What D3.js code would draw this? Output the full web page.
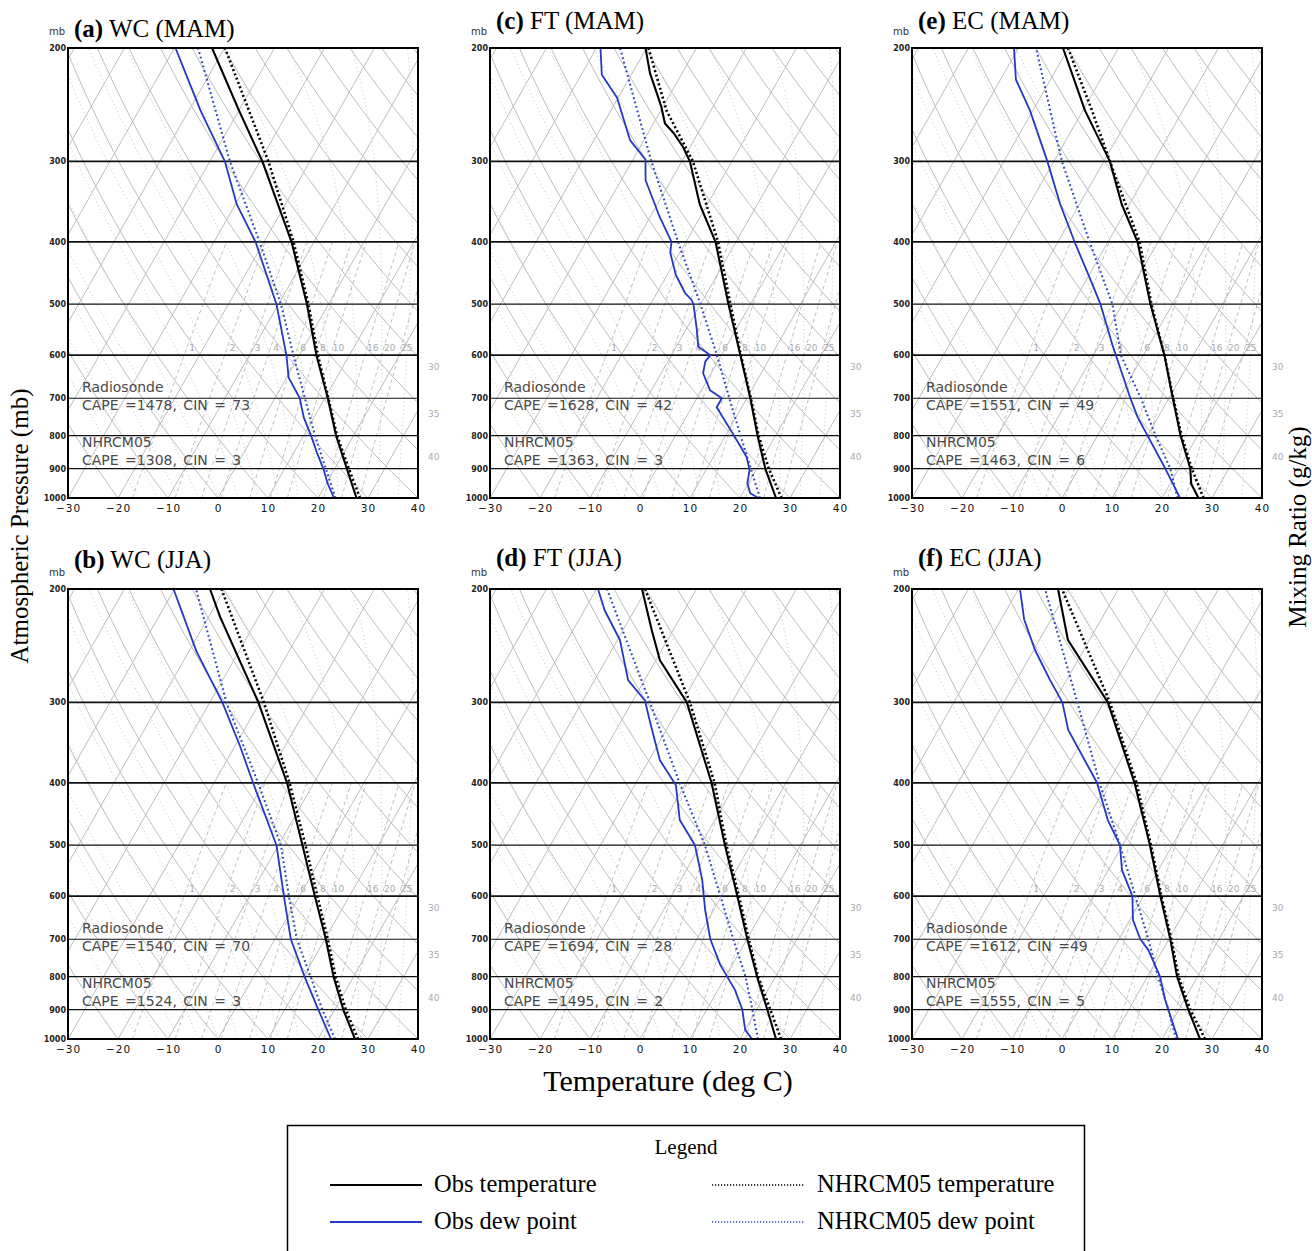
<!DOCTYPE html>
<html>
<head>
<meta charset="utf-8">
<title>Skew-T soundings</title>
<script src="https://d3js.org/d3.v7.min.js"></script>
<style>
  body { margin: 0; background: #fff; }
</style>
</head>
<body>
<script>
// ---- data: [pressure (mb), temperature (deg C)] ----
var obsTempA = [[1000,27.7],[900,22.4],[800,16.5],[700,10.6],[600,3.4],[500,-4.3],[400,-14.5],[300,-29.5],[250,-40],[200,-52.5]];
var nhTempA  = [[1000,28.4],[900,22.8],[800,16.7],[700,10.7],[600,3.7],[500,-4.0],[400,-14.1],[300,-28.3],[200,-49.9]];
var obsDewA  = [[1000,23.2],[950,20.3],[900,17.7],[850,14.6],[800,11.5],[750,8.0],[720,6.2],[700,5.0],[650,0.4],[600,-2.6],[500,-10.4],[400,-21.7],[350,-29.7],[300,-37.0],[250,-47.7],[200,-59.8]];
var nhDewA   = [[1000,23.5],[900,18.2],[800,12.3],[700,6.0],[600,-1.2],[500,-9.5],[400,-20.9],[300,-36.0],[200,-55.3]];

var obsTempB = [[1000,27.4],[900,21.7],[800,16.0],[700,10.2],[600,3.1],[500,-5.2],[400,-15.4],[300,-30.3],[221,-47.7],[200,-52.9]];
var nhTempB  = [[1000,28.0],[900,22.2],[800,16.4],[700,10.6],[600,3.6],[500,-4.6],[400,-14.9],[300,-29.2],[200,-50.6]];
var obsDewB  = [[1000,22.6],[900,16.7],[800,10.2],[700,3.2],[600,-3.1],[500,-10.4],[400,-22.2],[350,-29.1],[300,-37.5],[250,-48.5],[200,-60.2]];
var nhDewB   = [[1000,23.4],[900,17.5],[800,11.4],[700,4.4],[600,-2.1],[500,-9.5],[400,-21.2],[300,-36.7],[200,-55.7]];

var obsTempC = [[1000,27.2],[900,21.7],[800,16.4],[700,10.7],[600,3.8],[500,-4.4],[400,-14.1],[350,-21.5],[300,-28.4],[285,-31.4],[271,-34.9],[262,-37.7],[247,-40.3],[235,-42.8],[219,-46.4],[200,-50.2]];
var nhTempC  = [[1000,28.3],[900,22.4],[800,16.6],[700,10.8],[600,3.9],[500,-4.0],[400,-13.6],[300,-27.8],[250,-38.9],[200,-49.6]];
var obsDewC  = [[1000,23.7],[983,21.5],[949,19.8],[904,18.7],[863,16.6],[800,11.7],[723,5.0],[700,5.0],[680,1.7],[640,-1.6],[614,-2.5],[600,-2.2],[582,-5.6],[548,-7.8],[500,-11.4],[493,-12.2],[480,-14.4],[450,-18.3],[416,-21.9],[400,-22.9],[366,-28.1],[321,-35.1],[298,-37.5],[278,-42.8],[239,-50.2],[220,-55.9],[200,-59.2]];
var nhDewC   = [[1000,24.0],[900,18.8],[800,13.0],[700,6.5],[600,-0.9],[500,-10.0],[400,-21.6],[300,-36.1],[200,-55.3]];

var obsTempD = [[1000,27.2],[900,22.1],[800,16.3],[700,10.1],[600,3.2],[500,-5.1],[400,-14.9],[300,-29.0],[258,-39.2],[232,-44.2],[200,-50.9]];
var nhTempD  = [[1000,28.2],[900,22.7],[800,16.5],[700,10.4],[600,3.5],[500,-4.8],[400,-14.3],[300,-28.4],[200,-50.3]];
var obsDewD  = [[1000,22.4],[968,20.0],[900,17.1],[839,13.4],[767,7.6],[700,2.7],[630,-1.7],[566,-5.7],[500,-11.1],[457,-17.0],[403,-21.8],[369,-27.8],[322,-34.1],[298,-37.6],[277,-43.3],[240,-49.5],[216,-55.9],[200,-59.7]];
var nhDewD   = [[1000,23.6],[900,19.1],[800,14.0],[700,7.3],[600,-0.2],[500,-9.1],[400,-21.3],[300,-36.4],[200,-57.9]];

var obsTempE = [[1000,27.3],[950,24.2],[900,22.3],[800,16.6],[700,10.8],[600,4.2],[500,-4.4],[400,-14.1],[350,-21.5],[300,-28.8],[250,-39.6],[200,-51.1]];
var nhTempE  = [[1000,28.3],[900,22.6],[800,16.8],[700,10.9],[600,4.2],[500,-4.2],[400,-13.7],[300,-28.8],[250,-38.2],[200,-50.1]];
var obsDewE  = [[1000,23.6],[954,20.8],[900,17.3],[800,10.0],[750,6.0],[700,2.3],[600,-5.5],[578,-7.4],[500,-14.4],[458,-19.2],[400,-26.7],[350,-33.8],[300,-41.3],[250,-50.6],[224,-56.9],[200,-60.9]];
var nhDewE   = [[1000,23.1],[900,18.3],[800,11.6],[700,4.4],[600,-4.5],[500,-12.0],[400,-23.7],[300,-38.4],[200,-56.5]];

var obsTempF = [[1000,27.6],[900,21.9],[800,15.9],[700,10.3],[600,3.4],[500,-4.5],[400,-14.7],[300,-29.2],[240,-44.3],[200,-52.1]];
var nhTempF  = [[1000,28.6],[900,22.3],[800,16.2],[700,10.5],[600,3.6],[500,-4.3],[400,-14.3],[300,-28.8],[200,-51.3]];
var obsDewF  = [[1000,23.2],[900,17.9],[870,16.2],[800,12.5],[727,7.1],[700,4.3],[653,0.6],[600,-2.2],[546,-7.3],[500,-10.5],[457,-15.8],[400,-22.2],[331,-34.0],[300,-38.3],[277,-43.3],[249,-49.7],[223,-55.4],[200,-59.7]];
var nhDewF   = [[1000,22.8],[900,17.9],[800,12.1],[700,5.9],[600,-1.6],[500,-10.5],[400,-21.7],[300,-35.3],[200,-54.7]];

var panelLetters = ["(a)", "(b)", "(c)", "(d)", "(e)", "(f)"];
var panelNames = ["WC (MAM)", "WC (JJA)", "FT (MAM)", "FT (JJA)", "EC (MAM)", "EC (JJA)"];
var obsIndex = ["CAPE =1478, CIN = 73", "CAPE =1540, CIN = 70", "CAPE =1628, CIN = 42", "CAPE =1694, CIN = 28", "CAPE =1551, CIN = 49", "CAPE =1612, CIN =49"];
var nhIndex = ["CAPE =1308, CIN = 3", "CAPE =1524, CIN = 3", "CAPE =1363, CIN = 3", "CAPE =1495, CIN = 2", "CAPE =1463, CIN = 6", "CAPE =1555, CIN = 5"];

var pressureTicks = [200, 300, 400, 500, 600, 700, 800, 900, 1000];
var tempTicks = [-30, -20, -10, 0, 10, 20, 30, 40];
var mixingRatios = [1, 2, 3, 4, 6, 8, 10, 16, 20, 25];
var sideLabels = [[626, "30"], [740, "35"], [864, "40"]];

var panelSeries = [
  [obsTempA, obsDewA, nhTempA, nhDewA],
  [obsTempB, obsDewB, nhTempB, nhDewB],
  [obsTempC, obsDewC, nhTempC, nhDewC],
  [obsTempD, obsDewD, nhTempD, nhDewD],
  [obsTempE, obsDewE, nhTempE, nhDewE],
  [obsTempF, obsDewF, nhTempF, nhDewF]
];

// ---- layout ----
var W = 1312, H = 1251;
var PW = 350, PH = 450;
var SKEW = 0.57;          // horizontal px per vertical px
var colLeft = [68, 490, 912];
var rowTop = [48, 589];
var BLUE = "#2338c4";

var seriesStyle = [
  {stroke: "#000", width: 2.1, dash: null},
  {stroke: BLUE, width: 1.8, dash: null},
  {stroke: "#000", width: 2.6, dash: "2 2.6"},
  {stroke: "#3347c0", width: 2.1, dash: "1.8 2.8"}
];

var svg = d3.select("body").append("svg")
  .attr("width", W).attr("height", H)
  .style("font-family", "'DejaVu Sans', sans-serif");

// thermodynamics helpers for background lines
function dryAdiabat(theta) {
  var pts = [];
  for (var p = 1000; p >= 200; p -= 10) {
    pts.push([p, (theta + 273.15) * Math.pow(p / 1000, 0.2857) - 273.15]);
  }
  return pts;
}

function moistAdiabat(t0) {
  var Rd = 287.04, Cp = 1005.7, Lv = 2.501e6, eps = 0.622;
  var T = t0 + 273.15, pts = [[1000, t0]];
  for (var p = 1000; p > 200; p -= 5) {
    var tc = T - 273.15;
    var es = 6.112 * Math.exp(17.67 * tc / (tc + 243.5));
    var rs = eps * es / (p - es);
    var dTdp = (Rd * T + Lv * rs) / (p * (Cp + Lv * Lv * rs * eps / (Rd * T * T)));
    T -= dTdp * 5;
    pts.push([p - 5, T - 273.15]);
  }
  return pts;
}

function dewFromMix(w, p) {
  var e = (w / 1000) * p / (0.622 + w / 1000);
  var l = Math.log(e / 6.112);
  return 243.5 * l / (17.67 - l);
}

function mixLine(w) {
  var pts = [];
  for (var p = 1000; p >= 400; p -= 20) pts.push([p, dewFromMix(w, p)]);
  return pts;
}

panelSeries.forEach(function(series, i) {
  var col = Math.floor(i / 2), row = i % 2;
  var left = colLeft[col], top = rowTop[row];

  var x = d3.scaleLinear().domain([-30, 40]).range([left, left + PW]);
  var y = d3.scaleLog().domain([1000, 200]).range([top + PH, top]);
  var sx = function(t, p) { return x(t) + SKEW * (y(1000) - y(p)); };
  var line = d3.line().x(function(d) { return sx(d[1], d[0]); }).y(function(d) { return y(d[0]); });

  var g = svg.append("g");
  var clipId = "clip" + i;
  g.append("clipPath").attr("id", clipId)
    .append("rect").attr("x", left).attr("y", top).attr("width", PW).attr("height", PH);

  var bg = g.append("g").attr("clip-path", "url(#" + clipId + ")");

  // isotherms
  d3.range(-90, 50, 10).forEach(function(t) {
    bg.append("path").attr("d", line([[1000, t], [200, t]]))
      .attr("fill", "none").attr("stroke", "#bdbdbd").attr("stroke-width", 1);
  });
  // dry adiabats
  d3.range(-40, 160, 10).forEach(function(th) {
    bg.append("path").attr("d", line(dryAdiabat(th)))
      .attr("fill", "none").attr("stroke", "#bdbdbd").attr("stroke-width", 1);
  });
  // moist adiabats
  d3.range(-16, 44, 4).forEach(function(t0) {
    bg.append("path").attr("d", line(moistAdiabat(t0)))
      .attr("fill", "none").attr("stroke", "#c4c4c4").attr("stroke-width", 1)
      .attr("stroke-dasharray", "1 3");
  });
  // mixing ratio lines
  mixingRatios.forEach(function(w) {
    bg.append("path").attr("d", line(mixLine(w)))
      .attr("fill", "none").attr("stroke", "#c0c0c0").attr("stroke-width", 1)
      .attr("stroke-dasharray", "4 3");
  });

  // isobars
  pressureTicks.slice(1, -1).forEach(function(p) {
    g.append("line")
      .attr("x1", left).attr("x2", left + PW)
      .attr("y1", y(p)).attr("y2", y(p))
      .attr("stroke", "#111").attr("stroke-width", (p === 300 || p === 400 || p === 600) ? 1.8 : 1.2);
  });

  // mixing ratio labels
  mixingRatios.forEach(function(w) {
    g.append("text")
      .attr("x", sx(dewFromMix(w, 600), 600) + 8)
      .attr("y", y(600) - 4)
      .attr("text-anchor", "middle")
      .attr("font-size", 9).attr("fill", "#aaa")
      .text(w);
  });
  // labels on right side
  sideLabels.forEach(function(d) {
    g.append("text")
      .attr("x", left + PW + 10).attr("y", y(d[0]) + 3)
      .attr("font-size", 9).attr("fill", "#aaa")
      .text(d[1]);
  });

  // sounding profiles
  series.forEach(function(s, k) {
    var st = seriesStyle[k];
    g.append("path").attr("d", line(s))
      .attr("fill", "none").attr("stroke", st.stroke)
      .attr("stroke-width", st.width)
      .attr("stroke-dasharray", st.dash)
      .attr("stroke-linejoin", "round");
  });

  // frame
  g.append("rect").attr("x", left).attr("y", top).attr("width", PW).attr("height", PH)
    .attr("fill", "none").attr("stroke", "#000").attr("stroke-width", 2);

  // axes
  var xAxis = d3.axisBottom(x).tickValues(tempTicks).tickSize(0).tickPadding(7)
    .tickFormat(function(d) { return d < 0 ? "\u2212" + Math.abs(d) : d; });
  var xg = g.append("g").attr("transform", "translate(0," + (top + PH) + ")").call(xAxis);
  xg.select(".domain").remove();
  xg.selectAll("text").attr("font-size", 10.5).attr("fill", "#111")
    .attr("font-family", "'DejaVu Sans', sans-serif").style("letter-spacing", "1px");

  var yAxis = d3.axisLeft(y).tickValues(pressureTicks).tickSize(0).tickPadding(2)
    .tickFormat(d3.format("d"));
  var yg = g.append("g").attr("transform", "translate(" + left + ",0)").call(yAxis);
  yg.select(".domain").remove();
  yg.selectAll("text").attr("font-size", 8).attr("font-weight", "bold").attr("fill", "#222")
    .attr("font-family", "'DejaVu Sans', sans-serif");

  // panel title
  g.append("text").attr("x", left - 3).attr("y", top - 13)
    .attr("text-anchor", "end").attr("font-size", 10).attr("fill", "#333").text("mb");
  var titleY = row === 0 ? (col === 0 ? top - 11 : top - 19) : (col === 0 ? top - 21 : top - 23);
  var t = g.append("text").attr("x", left + 6).attr("y", titleY)
    .attr("font-family", "'Liberation Serif', 'Times New Roman', serif").attr("font-size", 25);
  t.append("tspan").attr("font-weight", "bold").text(panelLetters[i]);
  t.append("tspan").text(" " + panelNames[i]);

  // CAPE annotations
  var ann = [["Radiosonde", 344], [obsIndex[i], 362], ["NHRCM05", 399], [nhIndex[i], 417]];
  ann.forEach(function(a) {
    g.append("text").attr("x", left + 14).attr("y", top + a[1])
      .attr("font-size", 14).attr("fill", "#4a4a4a")
      .attr("word-spacing", a[0].indexOf("CAPE") === 0 ? "2px" : null)
      .text(a[0]);
  });
});

// axis titles
var serif = "'Liberation Serif', 'Times New Roman', serif";
svg.append("text").attr("transform", "translate(28,526) rotate(-90)")
  .attr("text-anchor", "middle").attr("font-family", serif).attr("font-size", 25)
  .text("Atmospheric Pressure (mb)");
svg.append("text").attr("transform", "translate(1306,527) rotate(-90)")
  .attr("text-anchor", "middle").attr("font-family", serif).attr("font-size", 25)
  .text("Mixing Ratio (g/kg)");
svg.append("text").attr("x", 668).attr("y", 1091)
  .attr("text-anchor", "middle").attr("font-family", serif).attr("font-size", 30)
  .text("Temperature (deg C)");

// legend
var legendNames = ["Obs temperature", "Obs dew point", "NHRCM05 temperature", "NHRCM05 dew point"];
var lg = svg.append("g");
lg.append("rect").attr("x", 287.5).attr("y", 1125.5).attr("width", 797).attr("height", 140)
  .attr("fill", "none").attr("stroke", "#000").attr("stroke-width", 1.5);
lg.append("text").attr("x", 686).attr("y", 1154).attr("text-anchor", "middle")
  .attr("font-family", serif).attr("font-size", 21).text("Legend");
legendNames.forEach(function(name, k) {
  var lx = k < 2 ? 330 : 712, ly = k % 2 === 0 ? 1185 : 1222;
  var st = seriesStyle[k === 1 ? 1 : k === 2 ? 2 : k === 3 ? 3 : 0];
  lg.append("line").attr("x1", lx).attr("x2", lx + 92).attr("y1", ly).attr("y2", ly)
    .attr("stroke", st.stroke)
    .attr("stroke-width", k < 2 ? 2 : 1.3)
    .attr("stroke-dasharray", k < 2 ? null : "1.2 1.8");
  lg.append("text").attr("x", lx + (k < 2 ? 104 : 105)).attr("y", ly + 7)
    .attr("font-family", serif).attr("font-size", 24.5).text(name);
});
</script>
</body>
</html>
